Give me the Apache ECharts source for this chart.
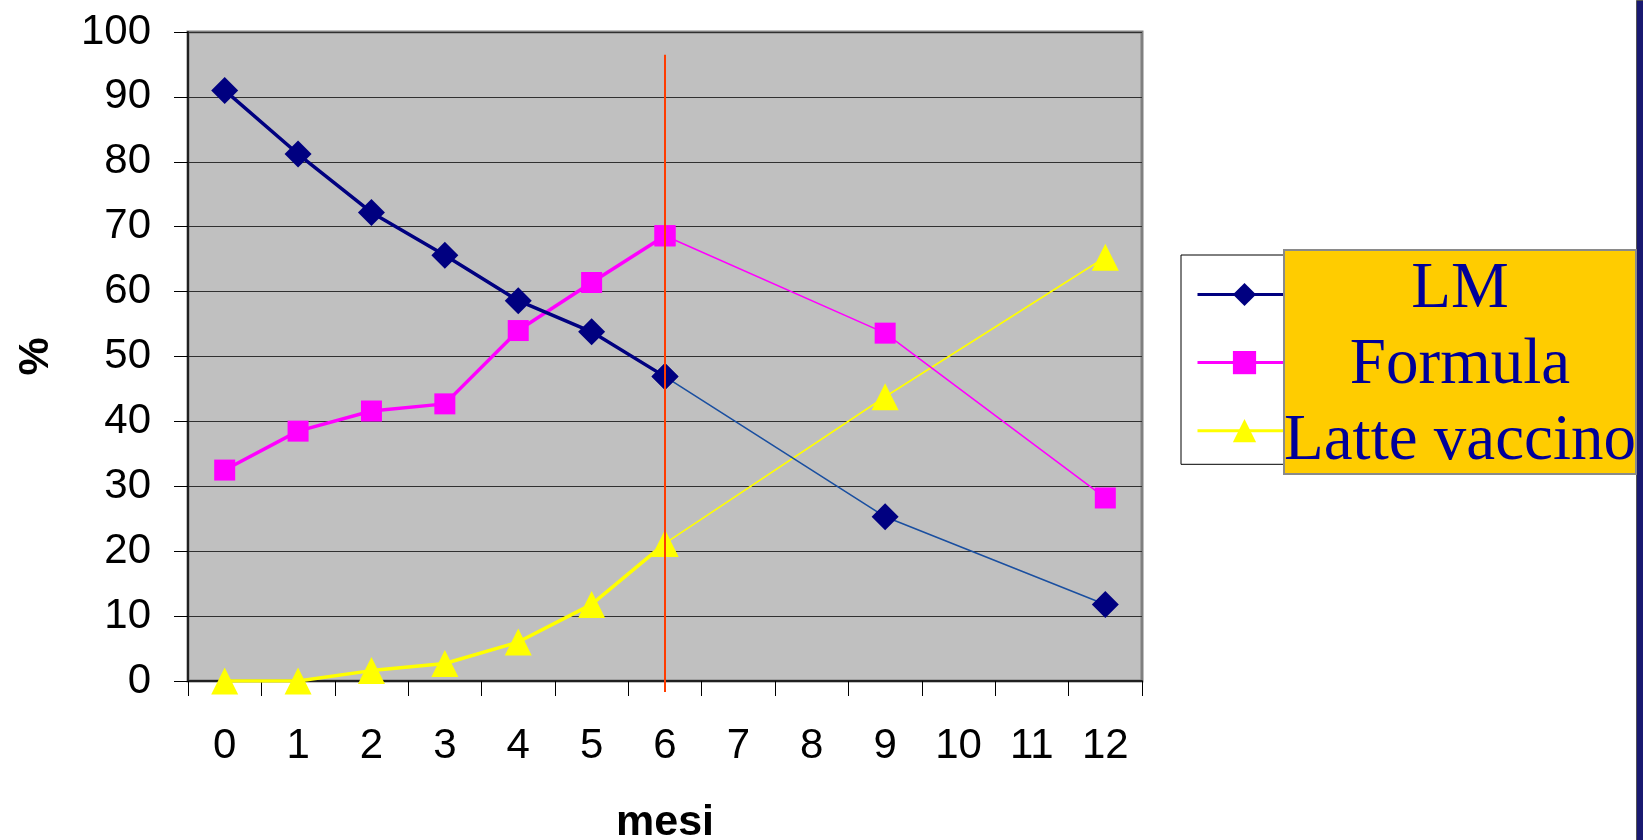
<!DOCTYPE html>
<html>
<head>
<meta charset="utf-8">
<style>
  html, body { margin: 0; padding: 0; background: #ffffff; }
  #chart { width: 1643px; height: 840px; }
</style>
<script src="https://cdn.jsdelivr.net/npm/echarts@6/dist/echarts.min.js"></script>
</head>
<body>
<div id="chart"></div>
<script>
// Months on the x axis (category labels)
const months = ['0', '1', '2', '3', '4', '5', '6', '7', '8', '9', '10', '11', '12'];
// Percentage of infants per feeding type; null = month not surveyed
const lmValues      = [91, 81.2, 72.2, 65.6, 58.6, 53.8, 46.9, null, null, 25.3, null, null, 11.8];
const formulaValues = [32.5, 38.5, 41.6, 42.7, 54, 61.4, 68.6, null, null, 53.6, null, null, 28.2];
const latteValues   = [0, 0, 1.6, 2.7, 6, 11.8, 21.2, null, null, 43.8, null, null, 65.3];
const seriesNames   = ['LM', 'Formula', 'Latte vaccino'];
const yTicks        = [0, 100, 10];          // min, max, step
const weaningMonth  = '6';                   // month marked by the vertical reference line
const weaningLineSpan = [96.5, 0];           // vertical extent of that line, in %

const splitMonth = months.indexOf(weaningMonth);
const firstPart = arr => arr.map((v, i) => (i <= splitMonth ? v : null));
const secondPart = arr => arr.map((v, i) => (i >= splitMonth ? v : null));

const styles = [
  { color: '#000080', thin: '#1a4fa0', symbol: 'diamond', size: 27 },
  { color: '#ff00ff', thin: '#ff00ff', symbol: 'rect', size: 21 },
  { color: '#ffff00', thin: '#ffff00', symbol: 'triangle', size: 27 }
];
const values = [lmValues, formulaValues, latteValues];

const series = [];
values.forEach((arr, k) => {
  const st = styles[k];
  series.push({
    name: seriesNames[k], type: 'line', data: firstPart(arr),
    symbol: st.symbol, symbolSize: st.size, connectNulls: true,
    lineStyle: { color: st.color, width: 3.5 },
    itemStyle: { color: st.color },
    z: 5 - k
  });
});
values.forEach((arr, k) => {
  const st = styles[k];
  series.push({
    name: seriesNames[k], type: 'line', data: secondPart(arr),
    symbol: st.symbol, symbolSize: st.size, connectNulls: true,
    lineStyle: { color: st.thin, width: 1.6 },
    itemStyle: { color: st.color },
    z: 5 - k
  });
});
// vertical reference line at the weaning month, running slightly past the x axis
series.push({
  type: 'custom', name: 'svezzamento', silent: true, clip: false, z: 20,
  data: [[splitMonth, weaningLineSpan[0], weaningLineSpan[1]]],
  encode: { x: 0, y: [1, 2] },
  renderItem: (params, api) => {
    const top = api.coord([api.value(0), api.value(1)]);
    const bottom = api.coord([api.value(0), api.value(2)]);
    return {
      type: 'line',
      shape: { x1: top[0], y1: top[1], x2: bottom[0], y2: bottom[1] + 11 },
      style: { stroke: '#ff3c00', lineWidth: 2 }
    };
  }
});

const boxText = (txt, y) => ({
  type: 'text', x: 176, y: y, z: 101,
  style: { text: txt, fill: '#000099', font: '65px "Liberation Serif"',
    textAlign: 'center', textVerticalAlign: 'middle' }
});

const chart = echarts.init(document.getElementById('chart'));
chart.setOption({
  animation: false,
  backgroundColor: '#ffffff',
  grid: {
    left: 188, top: 32, right: 501, bottom: 159,
    outerBoundsMode: 'none',
    show: true, backgroundColor: '#c0c0c0', borderColor: '#808080', borderWidth: 3
  },
  xAxis: {
    type: 'category', data: months, boundaryGap: true,
    name: 'mesi', nameLocation: 'middle', nameGap: 121,
    nameTextStyle: { fontFamily: 'Liberation Sans', fontWeight: 'bold', fontSize: 43, color: '#000' },
    axisLine: { lineStyle: { color: '#202020', width: 2 } },
    axisTick: { show: true, length: 15, lineStyle: { color: '#000', width: 1 } },
    axisLabel: { fontFamily: 'Liberation Sans', fontSize: 42, color: '#000', margin: 44, interval: 0 },
    splitLine: { show: false }
  },
  yAxis: {
    type: 'value', min: yTicks[0], max: yTicks[1], interval: yTicks[2],
    name: '%', nameLocation: 'middle', nameGap: 130, nameRotate: 90,
    nameTextStyle: { fontFamily: 'Liberation Sans', fontWeight: 'bold', fontSize: 43, color: '#000' },
    axisLine: { show: true, lineStyle: { color: '#202020', width: 2 } },
    axisTick: { show: true, length: 14, lineStyle: { color: '#000', width: 1 } },
    axisLabel: { fontFamily: 'Liberation Sans', fontSize: 42, color: '#000', margin: 37, padding: [0, 0, 8, 0] },
    splitLine: { show: true, lineStyle: { color: '#303030', width: 1 } }
  },
  legend: {
    orient: 'vertical', left: 1181, top: 255, z: 4,
    data: seriesNames,
    itemWidth: 94, itemHeight: 29, itemGap: 42,
    padding: [25, 10, 22, 15],
    backgroundColor: '#ffffff', borderColor: '#000000', borderWidth: 1,
    selectedMode: false,
    lineStyle: { width: 3 },
    formatter: () => '',
    textStyle: { fontSize: 1 }
  },
  graphic: [
    {
      type: 'rect', left: 1636, top: 0, z: 100,
      shape: { width: 7, height: 840 },
      style: { fill: '#191970', stroke: '#555555', lineWidth: 1 }
    },
    {
      type: 'group', left: 1283, top: 249, z: 100,
      children: [
        { type: 'rect', z: 100, shape: { x: 0, y: 0, width: 352, height: 224 },
          style: { fill: '#ffcc00', stroke: '#8a8a8a', lineWidth: 2 } },
        boxText(seriesNames[0], 40),
        boxText(seriesNames[1], 116),
        boxText(seriesNames[2], 192)
      ]
    }
  ],
  series: series
});
</script>
</body>
</html>
